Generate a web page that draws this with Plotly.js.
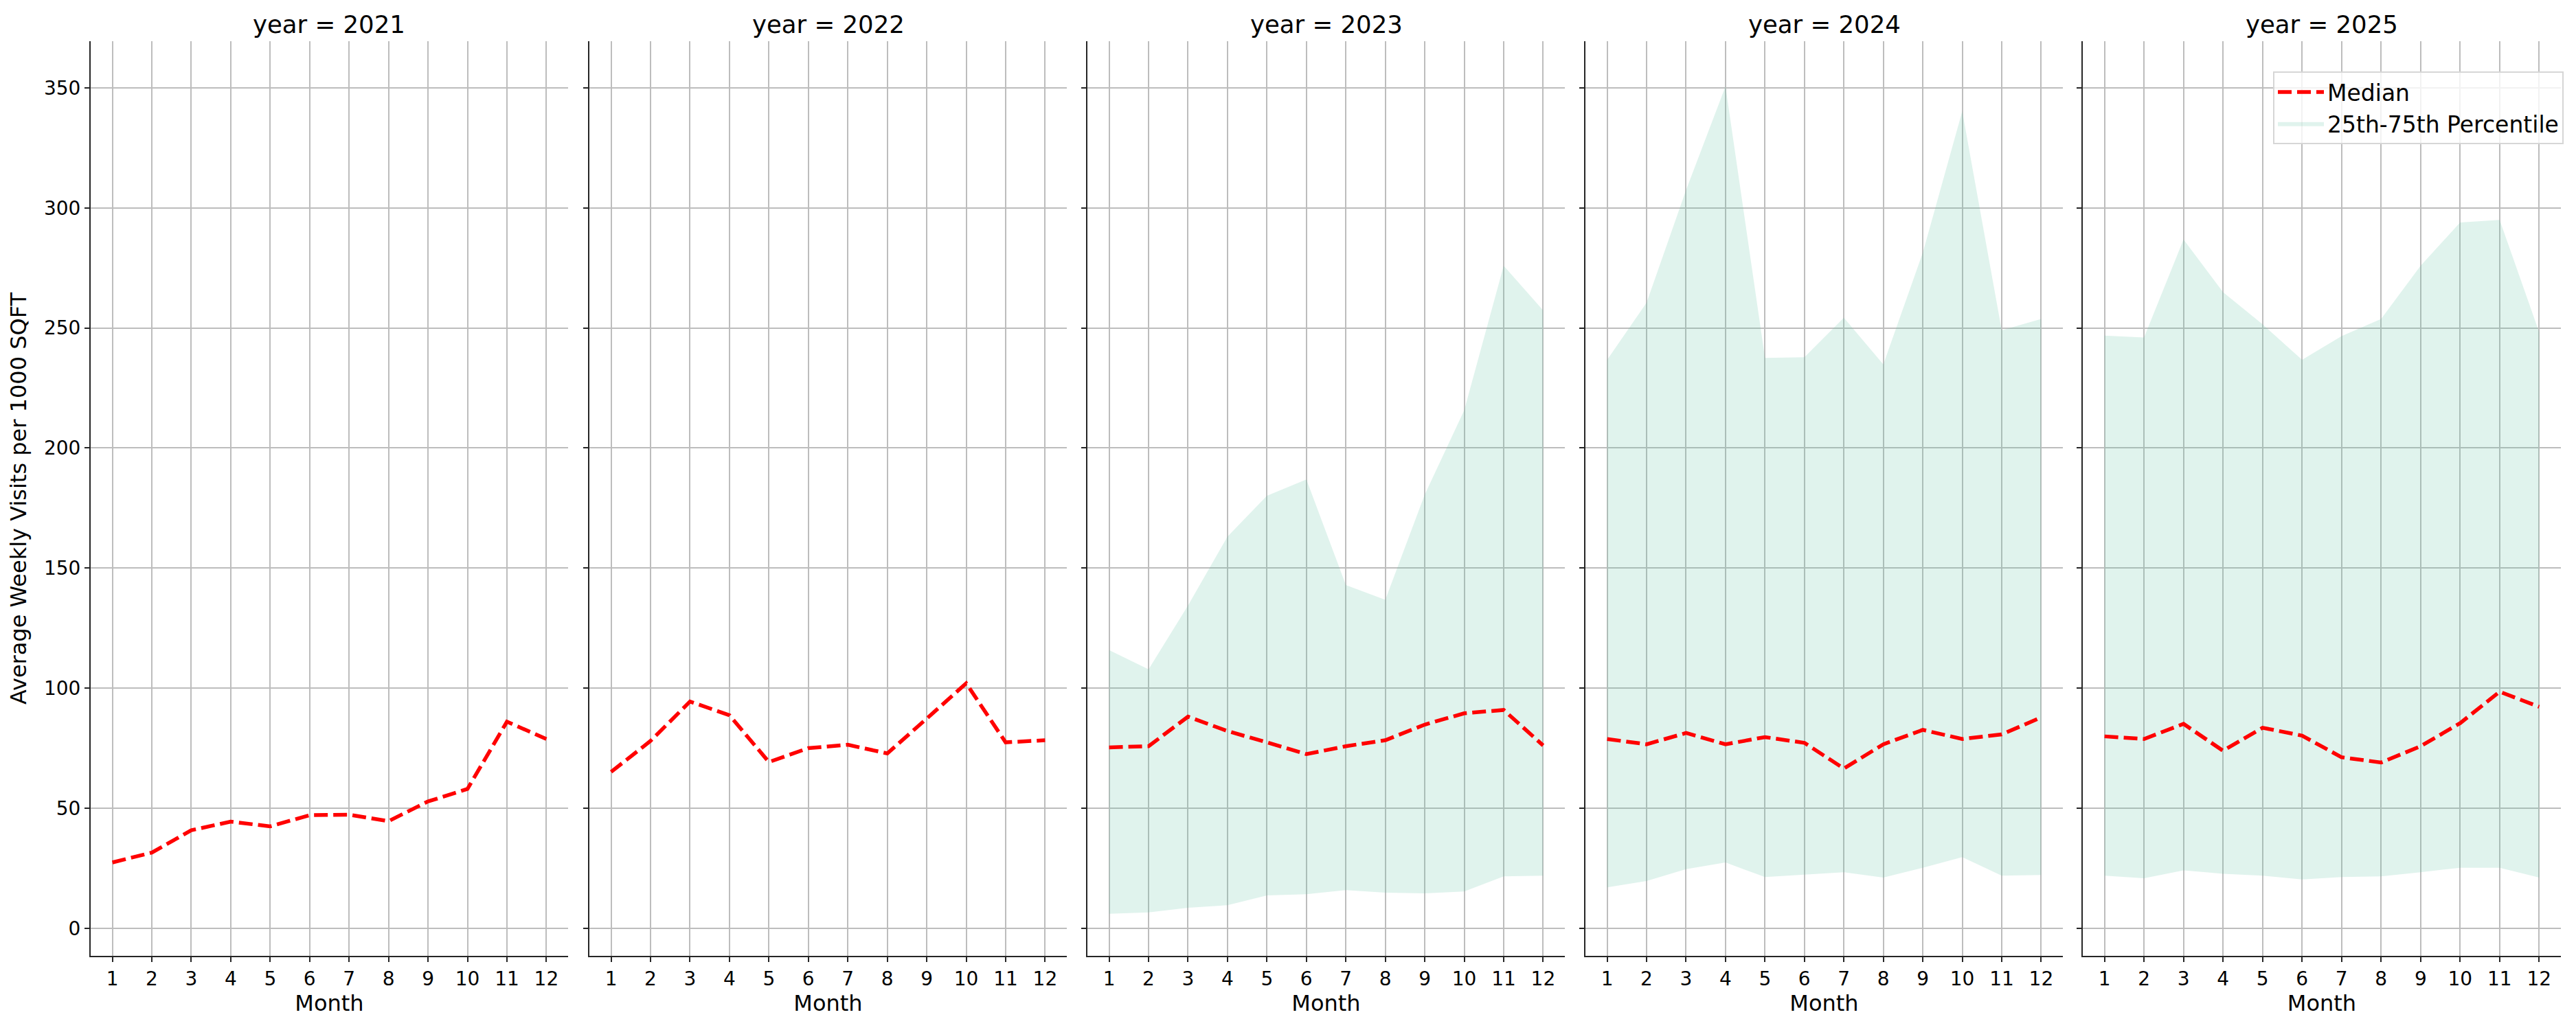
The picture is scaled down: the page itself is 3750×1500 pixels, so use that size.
<!DOCTYPE html>
<html>
<head>
<meta charset="utf-8">
<script src="https://cdn.plot.ly/plotly-3.0.1.min.js"></script>
<style>html,body{margin:0;padding:0;background:#fff;}</style>
</head>
<body>
<div id="chart" style="width:3750px;height:1500px;"></div>
<script>
const months = [1,2,3,4,5,6,7,8,9,10,11,12];
const years = [2021, 2022, 2023, 2024, 2025];

const median2021 = [27.4, 31.5, 40.8, 44.4, 42.4, 47.1, 47.3, 44.6, 52.8, 58.0, 86.0, 78.8];
const median2022 = [65.1, 78.0, 94.4, 88.7, 69.2, 75.0, 76.4, 72.8, 87.3, 102.0, 77.4, 78.3];
const median2023 = [75.3, 75.8, 88.1, 82.1, 77.4, 72.5, 75.8, 78.3, 84.8, 89.5, 90.9, 76.1];
const median2024 = [78.8, 76.6, 81.3, 76.6, 79.6, 77.2, 66.5, 76.6, 82.6, 78.8, 80.7, 87.8];
const median2025 = [79.9, 78.8, 85.1, 73.9, 83.5, 80.2, 71.2, 69.0, 75.8, 85.4, 98.5, 92.2];

const p25_2023 = [6.0, 6.6, 8.5, 9.6, 13.7, 14.2, 15.9, 14.8, 14.5, 15.3, 21.6, 21.9];
const p75_2023 = [115.8, 107.8, 134.4, 163.1, 180.1, 186.9, 142.9, 136.8, 180.6, 215.7, 275.9, 257.3];
const p25_2024 = [17.0, 19.7, 24.6, 27.4, 21.3, 22.4, 23.3, 21.1, 25.2, 29.6, 21.9, 22.2];
const p75_2024 = [236.7, 260.5, 307.4, 350.6, 237.5, 237.8, 254.2, 234.8, 281.3, 340.2, 249.0, 253.7];
const p25_2025 = [21.9, 20.8, 24.1, 22.7, 21.9, 20.3, 21.3, 21.6, 23.3, 25.2, 25.2, 21.1];
const p75_2025 = [246.8, 246.0, 286.8, 264.9, 251.5, 236.7, 246.6, 253.7, 275.9, 293.9, 295.0, 248.2];

const medians = [median2021, median2022, median2023, median2024, median2025];
const p25s = [null, null, p25_2023, p25_2024, p25_2025];
const p75s = [null, null, p75_2023, p75_2024, p75_2025];

const W = 3750, H = 1500;
const panelLeft = [132, 858, 1583, 2308, 3032];
const panelRight = [827, 1553, 2278, 3003, 3728];
const plotTop = 60, plotBottom = 1392;
const plotH = plotBottom - plotTop;

const FONT = 'DejaVu Sans, sans-serif';
const INK = '#262626';
const GRID = '#bdbdbd';
const FILL = 'rgba(102,194,165,0.2)';

const traces = [];
const layout = {
  width: W, height: H,
  margin: {l: 0, r: 0, t: plotTop, b: H - plotBottom, pad: 0},
  paper_bgcolor: '#ffffff',
  plot_bgcolor: '#ffffff',
  font: {family: FONT, color: '#000000', size: 28},
  showlegend: true,
  legend: {
    x: 3732 / W, xanchor: 'right',
    y: 1 - (104 - plotTop) / plotH, yanchor: 'top',
    yref: 'paper',
    traceorder: 'normal',
    bgcolor: 'rgba(255,255,255,0.8)',
    bordercolor: '#d6d6d6', borderwidth: 2,
    font: {family: FONT, size: 33, color: '#000000'},
    itemwidth: 67,
    tracegroupgap: 0
  },
  annotations: [],
  hovermode: false
};

years.forEach((yr, i) => {
  const sfx = i === 0 ? '' : String(i + 1);
  const xa = 'x' + sfx, ya = 'y' + sfx;

  if (p25s[i]) {
    traces.push({
      x: months, y: p25s[i], xaxis: xa, yaxis: ya,
      type: 'scatter', mode: 'lines', line: {width: 0, color: FILL},
      showlegend: false, hoverinfo: 'skip'
    });
    traces.push({
      x: months, y: p75s[i], xaxis: xa, yaxis: ya,
      type: 'scatter', mode: 'lines', line: {width: 0, color: FILL},
      fill: 'tonexty', fillcolor: FILL,
      name: '25th-75th Percentile', legendrank: 2,
      showlegend: i === 4
    });
  }
  traces.push({
    x: months, y: medians[i], xaxis: xa, yaxis: ya,
    type: 'scatter', mode: 'lines',
    line: {color: '#ff0000', width: 5.5, dash: '20px,8px'},
    name: 'Median', legendrank: 1,
    showlegend: i === 4
  });

  layout['xaxis' + sfx] = {
    domain: [panelLeft[i] / W, panelRight[i] / W],
    anchor: ya,
    range: [0.45, 12.55],
    tickmode: 'array', tickvals: months, ticktext: months.map(String),
    showgrid: true, gridcolor: GRID, gridwidth: 2,
    zeroline: false,
    showline: true, linecolor: INK, linewidth: 2,
    ticks: 'outside', ticklen: 7, tickwidth: 2, tickcolor: INK,
    tickfont: {family: FONT, size: 28, color: '#000000'},
    title: {text: 'Month', font: {family: FONT, size: 32, color: '#000000'}, standoff: 8},
    automargin: false, fixedrange: true
  };
  layout['yaxis' + sfx] = {
    domain: [0, 1],
    anchor: xa,
    range: [-11.5, 369.4],
    tickmode: 'array', tickvals: [0, 50, 100, 150, 200, 250, 300, 350],
    showticklabels: i === 0,
    showgrid: true, gridcolor: GRID, gridwidth: 2,
    zeroline: false,
    showline: true, linecolor: INK, linewidth: 2,
    ticks: 'outside', ticklen: 7, tickwidth: 2, tickcolor: INK,
    tickfont: {family: FONT, size: 28, color: '#000000'},
    automargin: false, fixedrange: true
  };
  if (i === 0) {
    layout['yaxis'].title = {text: 'Average Weekly Visits per 1000 SQFT',
      font: {family: FONT, size: 32, color: '#000000'}, standoff: 16};
  }
  layout.annotations.push({
    text: 'year = ' + yr,
    xref: 'paper', yref: 'paper',
    x: (panelLeft[i] + panelRight[i]) / 2 / W,
    y: 1 + (plotTop - 36) / plotH,
    xanchor: 'center', yanchor: 'middle',
    showarrow: false,
    font: {family: FONT, size: 35.5, color: '#000000'}
  });
});

Plotly.newPlot('chart', traces, layout, {staticPlot: true, displayModeBar: false});
</script>
</body>
</html>
